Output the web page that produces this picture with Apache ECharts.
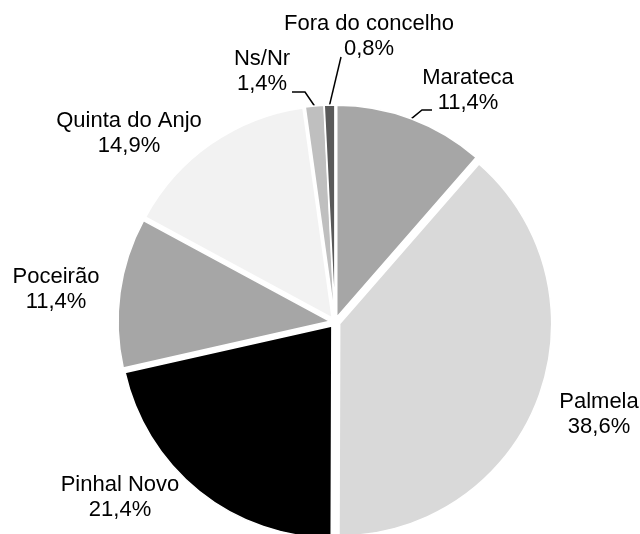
<!DOCTYPE html>
<html>
<head>
<meta charset="utf-8">
<title>Local de residência</title>
<script src="https://cdn.jsdelivr.net/npm/echarts@6/dist/echarts.min.js"></script>
<style>
  html, body { margin: 0; padding: 0; background: #fff; }
  #chart { width: 640px; height: 534px; }
</style>
</head>
<body>
<div id="chart"></div>
<script>
// categorias, no sentido dos ponteiros do relógio a partir do topo
const categories = ['Marateca', 'Palmela', 'Pinhal Novo', 'Poceirão', 'Quinta do Anjo', 'Ns/Nr', 'Fora do concelho']
// percentagens
const percents = [11.4, 38.6, 21.4, 11.4, 14.9, 1.4, 0.8]
// tons de cinzento de cada fatia
const colors = ['#a6a6a6', '#d9d9d9', '#000000', '#a6a6a6', '#f2f2f2', '#bfbfbf', '#595959']

// geometria do círculo
const cx = 335
const cy = 322
const R = 212
const explode = 5

// posição (centro) de cada rótulo e, para as fatias pequenas, a linha de chamada
const labelPlace = [
  { x: 468, y: 90, line: [[422, 110], [432, 110]] },
  { x: 599, y: 414 },
  { x: 120, y: 497 },
  { x: 56, y: 289 },
  { x: 129, y: 133 },
  { x: 262, y: 71, line: [[305, 92], [292, 92]] },
  { x: 369, y: 36, line: [[341, 57]] }
]

const total = percents.reduce((a, b) => a + b, 0)
// ângulo do meio da fatia (radianos, a partir do topo)
const midAngle = (i) => {
  let before = 0
  for (let k = 0; k < i; k++) before += percents[k]
  return ((before + percents[i] / 2) / total) * Math.PI * 2
}

const fmt = (v) => v.toFixed(1).replace('.', ',') + '%'

const initChart = () => {
  const chart = echarts.init(document.getElementById('chart'))
  // fatias destacadas (todas "selecionadas" para o efeito de explosão)
  const sliceData = categories.map((name, i) => ({
    name: name,
    value: percents[i],
    selected: true,
    itemStyle: { color: colors[i] }
  }))
  // série invisível só para os rótulos
  const labelData = categories.map((name, i) => ({
    name: name,
    value: percents[i],
    labelLine: { show: !!labelPlace[i].line }
  }))
  const option = {
    animation: false,
    series: [
      {
        type: 'pie',
        center: [cx, cy],
        radius: R,
        startAngle: 90,
        clockwise: true,
        selectedMode: 'multiple',
        selectedOffset: explode,
        data: sliceData,
        itemStyle: {
          borderColor: '#ffffff',
          borderWidth: 1.5
        },
        label: { show: false },
        labelLine: { show: false },
        emphasis: { disabled: true }
      },
      {
        type: 'pie',
        center: [cx, cy],
        radius: R,
        startAngle: 90,
        clockwise: true,
        silent: true,
        data: labelData,
        itemStyle: { color: 'rgba(0,0,0,0)' },
        label: {
          show: true,
          position: 'outside',
          formatter: (p) => p.name + '\n' + fmt(p.value),
          fontFamily: 'Liberation Sans, Arial, sans-serif',
          fontSize: 22,
          lineHeight: 25,
          color: '#000000',
          overflow: 'none'
        },
        labelLine: {
          lineStyle: { color: '#000000', width: 1.5 }
        },
        labelLayout: (params) => {
          const place = labelPlace[params.dataIndex]
          const a = midAngle(params.dataIndex)
          const out = {
            x: place.x,
            y: place.y,
            align: 'center',
            verticalAlign: 'middle',
            hideOverlap: false
          }
          if (place.line) {
            const start = [cx + (R + explode) * Math.sin(a), cy - (R + explode) * Math.cos(a)]
            out.labelLinePoints = [start].concat(place.line)
          }
          return out
        },
        emphasis: { disabled: true }
      }
    ]
  }
  chart.setOption(option)
}

initChart()
</script>
</body>
</html>
